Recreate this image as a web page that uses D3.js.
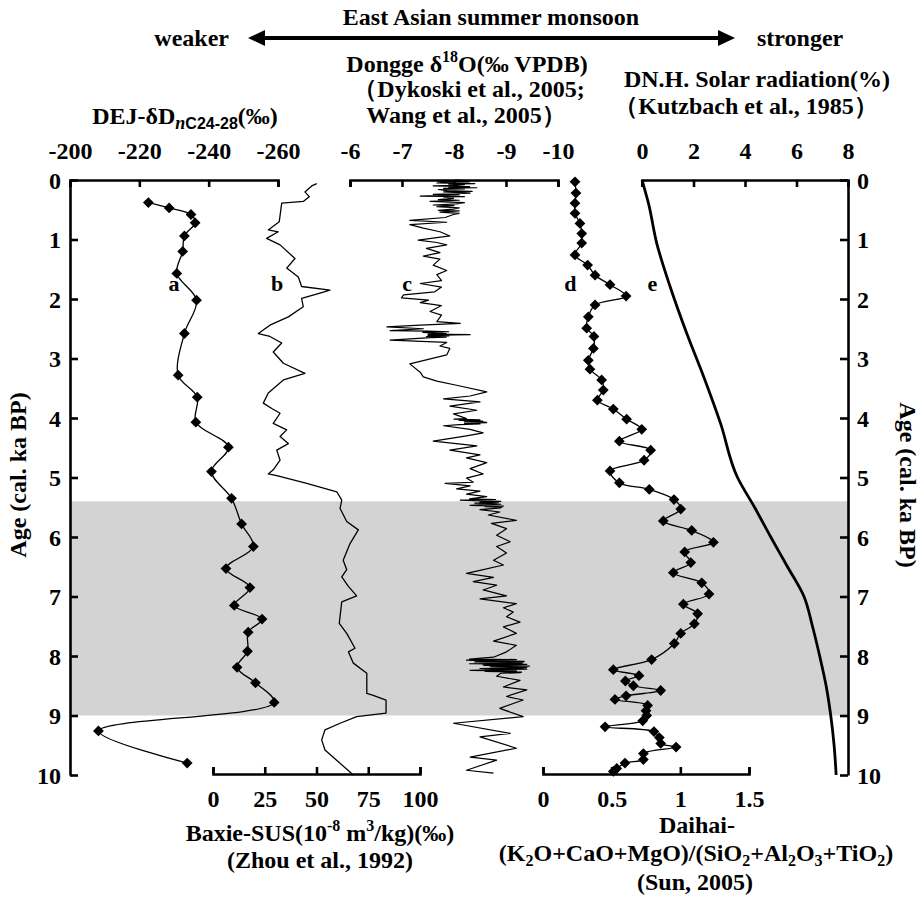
<!DOCTYPE html>
<html>
<head>
<meta charset="utf-8">
<script src="https://cdn.jsdelivr.net/npm/d3@7"></script>
<style>
  body { margin: 0; background: #fff; }
  svg text { font-family: "Liberation Serif", "Times New Roman", serif; font-weight: bold; fill: #000; }
</style>
</head>
<body>
<div id="chart"></div>
<script>
// ---------- data : [age (cal. ka BP), value] ----------
const dejDD = [[0.38,-222.6],[0.47,-228.6],[0.58,-234.9],[0.72,-236.1],[0.94,-233.0],[1.20,-232.5],[1.57,-230.8],
  [2.02,-236.5],[2.58,-233.0],[3.28,-231.2],[3.65,-236.7],[4.07,-236.3],[4.49,-245.7],[4.90,-240.8],[5.35,-246.6],
  [5.78,-249.5],[6.16,-252.9],[6.53,-245.0],[6.85,-251.9],[7.15,-247.4],[7.38,-255.4],[7.60,-251.4],[7.92,-251.2],
  [8.19,-248.2],[8.45,-253.5],[8.78,-258.9],[9.26,-208.2],[9.80,-233.8]];

const baxieSus = [[0.06,50.1],[0.10,47.7],[0.20,44.4],[0.28,46.5],[0.36,43.6],[0.39,33.2],[0.70,32.0],[0.84,26.7],
  [0.87,31.5],[0.98,25.9],[1.09,32.4],[1.32,39.6],[1.48,35.6],[1.63,41.2],[1.79,42.8],[1.85,56.5],[1.90,51.7],
  [1.99,42.8],[2.13,43.6],[2.30,36.4],[2.44,27.5],[2.58,21.9],[2.63,27.5],[2.74,33.2],[2.89,29.1],[3.08,34.0],
  [3.25,44.4],[3.36,34.0],[3.58,26.7],[3.75,24.3],[3.84,28.4],[3.92,32.4],[4.09,29.1],[4.20,35.6],[4.31,32.4],
  [4.43,36.4],[4.54,30.8],[4.71,32.4],[4.87,29.1],[4.94,26.7],[4.97,30.8],[5.10,45.3],[5.24,59.8],[5.38,62.2],
  [5.52,61.4],[5.74,64.6],[5.88,70.2],[6.11,66.2],[6.39,62.9],[6.55,64.6],[6.67,62.2],[6.83,65.4],[6.99,69.4],
  [7.09,62.2],[7.45,61.0],[7.62,64.6],[7.87,68.6],[7.93,65.4],[8.12,67.8],[8.29,74.3],[8.63,74.3],[8.66,77.4],
  [8.74,83.6],[8.96,83.6],[9.02,69.4],[9.13,61.4],[9.24,54.1],[9.41,52.5],[9.58,54.1],[10.0,67.8]];

const donggeO18 = [[0.00,-8.02],[0.01,-8.24],[0.02,-7.70],[0.03,-8.30],[0.04,-7.80],[0.05,-7.67],[0.06,-8.40],
  [0.07,-7.90],[0.08,-8.20],[0.09,-8.05],[0.10,-7.60],[0.11,-8.30],[0.12,-7.90],[0.13,-8.44],[0.14,-7.80],
  [0.15,-8.20],[0.16,-7.70],[0.18,-7.86],[0.19,-8.35],[0.20,-7.80],[0.22,-8.31],[0.24,-7.60],[0.25,-8.10],
  [0.27,-7.35],[0.28,-8.20],[0.29,-7.80],[0.31,-7.99],[0.33,-7.70],[0.34,-8.10],[0.36,-7.54],[0.38,-8.20],
  [0.40,-8.05],[0.42,-7.60],[0.43,-8.00],[0.45,-7.67],[0.47,-8.10],[0.49,-7.99],[0.51,-7.70],[0.52,-8.10],
  [0.54,-7.73],[0.56,-8.10],[0.58,-7.99],
  [0.63,-7.83],[0.68,-7.15],[0.71,-7.86],[0.75,-7.15],[0.81,-7.41],[0.87,-7.73],[0.94,-7.92],[1.01,-7.31],
  [1.05,-7.67],[1.09,-7.86],[1.15,-7.47],[1.22,-7.73],[1.28,-7.41],[1.33,-7.73],[1.43,-7.60],[1.52,-7.86],
  [1.59,-7.67],[1.69,-7.76],[1.74,-7.35],[1.80,-7.76],[1.88,-7.63],[1.93,-7.03],[1.98,-6.99],[2.02,-7.51],
  [2.06,-7.35],[2.11,-7.76],[2.21,-7.54],[2.27,-7.76],[2.38,-7.67],[2.41,-8.12],[2.44,-7.35],[2.47,-6.71],
  [2.50,-7.41],[2.53,-6.77],[2.54,-7.50],[2.55,-7.90],[2.56,-7.40],[2.57,-7.60],[2.58,-7.85],[2.59,-7.50],
  [2.60,-8.31],[2.61,-7.50],[2.62,-7.90],[2.63,-7.47],[2.64,-7.85],[2.65,-7.55],[2.69,-6.77],[2.73,-7.86],
  [2.79,-7.73],[2.83,-7.92],[2.94,-7.86],[3.09,-7.15],[3.23,-7.35],[3.31,-7.41],[3.38,-7.67],[3.45,-8.05],
  [3.56,-8.63],[3.63,-8.31],[3.68,-7.80],[3.73,-8.50],[3.80,-7.92],[3.87,-8.44],[3.93,-7.99],[4.01,-8.24],
  [4.02,-8.00],[4.03,-8.50],[4.04,-8.10],[4.05,-8.55],[4.06,-8.20],[4.07,-8.60],[4.08,-8.63],[4.09,-8.20],
  [4.10,-8.50],[4.11,-8.10],[4.13,-7.80],[4.19,-8.31],[4.25,-8.56],[4.30,-8.24],[4.39,-7.60],[4.47,-8.44],
  [4.54,-7.92],[4.62,-8.50],[4.67,-8.24],[4.75,-8.63],[4.85,-8.31],[4.94,-8.56],[5.01,-8.24],[5.08,-8.37],
  [5.10,-7.83],[5.14,-8.31],[5.19,-8.05],[5.23,-8.50],[5.28,-8.24],[5.32,-8.63],[5.36,-8.30],[5.37,-8.80],
  [5.38,-8.12],[5.39,-8.40],[5.40,-8.90],[5.41,-8.50],[5.42,-8.85],[5.43,-8.40],[5.44,-8.76],[5.45,-8.90],
  [5.46,-8.50],[5.47,-8.31],[5.48,-8.95],[5.49,-8.60],[5.50,-8.92],[5.51,-8.90],
  [5.54,-8.50],[5.58,-8.88],[5.63,-8.66],[5.72,-9.20],[5.77,-8.72],[5.86,-9.01],[5.97,-8.82],[6.08,-9.08],
  [6.16,-8.82],[6.27,-9.01],[6.39,-8.76],[6.47,-8.95],[6.56,-8.50],[6.61,-8.24],[6.68,-8.76],[6.75,-8.37],
  [6.81,-8.82],[6.89,-8.56],[6.99,-9.01],[7.04,-8.50],[7.12,-9.20],[7.19,-8.95],[7.26,-9.14],[7.34,-9.01],
  [7.43,-9.27],[7.51,-8.95],[7.62,-9.20],[7.75,-8.76],[7.82,-9.20],[7.93,-9.01],[8.02,-8.76],[8.05,-8.30],
  [8.06,-9.20],[8.07,-8.24],[8.08,-8.50],[8.09,-9.35],[8.10,-8.40],[8.11,-9.33],[8.12,-9.30],[8.13,-8.30],
  [8.14,-9.40],[8.15,-8.56],[8.16,-8.60],[8.17,-9.45],[8.18,-8.70],[8.19,-9.40],[8.20,-9.30],[8.21,-8.50],
  [8.22,-9.40],[8.23,-8.90],[8.24,-8.31],[8.25,-9.20],[8.26,-8.60],[8.27,-9.30],[8.28,-9.27],[8.29,-8.90],
  [8.34,-8.82],[8.41,-9.27],[8.52,-8.95],[8.57,-9.40],[8.68,-9.01],[8.74,-9.33],[8.88,-8.88],[9.02,-9.33],
  [9.13,-7.99],[9.30,-9.08],[9.36,-8.50],[9.55,-9.20],[9.70,-8.31],[9.75,-8.82],[9.92,-8.24],[9.97,-8.76]];

const daihaiRatio = [[0.03,0.233],[0.22,0.240],[0.39,0.233],[0.56,0.233],[0.73,0.269],[0.90,0.282],[1.06,0.282],
  [1.26,0.233],[1.43,0.325],[1.60,0.379],[1.76,0.488],[1.95,0.605],[2.10,0.379],[2.30,0.330],[2.49,0.318],
  [2.63,0.371],[2.83,0.367],[3.03,0.330],[3.18,0.342],[3.36,0.427],[3.53,0.439],[3.70,0.396],[3.85,0.512],
  [4.02,0.609],[4.19,0.719],[4.39,0.556],[4.54,0.784],[4.71,0.736],[4.89,0.488],[5.09,0.556],[5.20,0.774],
  [5.37,0.954],[5.53,1.003],[5.73,0.876],[5.89,1.083],[6.09,1.241],[6.25,1.032],[6.43,1.076],[6.60,0.949],
  [6.77,1.156],[6.96,1.209],[7.13,1.022],[7.29,1.126],[7.46,1.102],[7.62,1.003],[7.79,0.956],[8.06,0.791],
  [8.23,0.512],[8.33,0.699],[8.42,0.600],[8.50,0.658],[8.58,0.857],[8.67,0.605],[8.73,0.524],[8.83,0.762],
  [8.92,0.750],[9.00,0.755],[9.09,0.726],[9.19,0.452],[9.27,0.808],[9.37,0.847],[9.47,0.857],[9.53,0.969],
  [9.64,0.731],[9.74,0.731],[9.80,0.597],[9.89,0.537],[9.94,0.512]];

const solarRad = [[0,0.0],[0.39,0.25],[1.06,0.57],[1.79,1.09],[2.58,1.74],[3.31,2.40],[4.09,3.05],[5.0,3.71],
  [5.5,4.37],[6.0,5.0],[6.5,5.65],[7.0,6.29],[7.5,6.62],[8.0,6.90],[8.5,7.15],[9.0,7.33],[9.5,7.46],[10.0,7.54]];

const shadedBand = [5.4, 9.0];
const ageTicks = d3.range(0, 11);
const dejTicks = [-200, -220, -240, -260];
const donggeTicks = [-6, -7, -8, -9, -10];
const solarTicks = [0, 2, 4, 6, 8];
const susTicks = [0, 25, 50, 75, 100];
const daihaiTicks = [0, 0.5, 1, 1.5];
const curveLabels = [["a", "dej", -230], ["b", "sus", 31], ["c", "dongge", -7.1], ["d", "daihai", 0.2], ["e", "solar", 0.4]];

// ---------- layout ----------
const W = 924, H = 898;
const plotTop = 180, plotBottom = 775, plotLeft = 70, plotRight = 848;
const FS = 24;

const svg = d3.select("#chart").append("svg")
  .attr("width", W).attr("height", H)
  .style("background", "#fff");

const y = d3.scaleLinear().domain([0, 10]).range([plotTop, plotBottom]);
const xs = {
  dej: d3.scaleLinear().domain([-200, -260]).range([plotLeft, 278]),
  sus: d3.scaleLinear().domain([0, 100]).range([213, 420]),
  dongge: d3.scaleLinear().domain([-6, -10]).range([350, 558]),
  daihai: d3.scaleLinear().domain([0, 1.5]).range([543, 749]),
  solar: d3.scaleLinear().domain([0, 8]).range([642, plotRight])
};

// gray band
svg.append("rect")
  .attr("x", plotLeft).attr("width", plotRight - plotLeft)
  .attr("y", y(shadedBand[0])).attr("height", y(shadedBand[1]) - y(shadedBand[0]))
  .attr("fill", "#d3d3d3");

// ---------- axes ----------
function styleAxis(g) {
  g.selectAll("path, line").attr("stroke", "#000").attr("stroke-width", 2.6);
  g.selectAll("text").attr("font-size", FS).attr("fill", "#000")
    .attr("font-family", '"Liberation Serif", serif').attr("font-weight", "bold");
}
const fmt = d => String(d);

svg.append("g").attr("transform", `translate(${plotLeft},0)`)
  .call(d3.axisLeft(y).tickValues(ageTicks).tickFormat(fmt).tickSize(-8).tickSizeOuter(0).tickPadding(9))
  .call(styleAxis).call(g => g.selectAll("text").attr("dy", "0.34em"));
svg.append("g").attr("transform", `translate(${plotRight},0)`)
  .call(d3.axisRight(y).tickValues(ageTicks).tickFormat(fmt).tickSize(-8).tickSizeOuter(0).tickPadding(9))
  .call(styleAxis).call(g => g.selectAll("text").attr("dy", "0.34em"));

[["dej", dejTicks], ["dongge", donggeTicks], ["solar", solarTicks]].forEach(([k, t]) => {
  svg.append("g").attr("transform", `translate(0,${plotTop})`)
    .call(d3.axisTop(xs[k]).tickValues(t).tickFormat(fmt).tickSize(-7).tickSizeOuter(-7).tickPadding(21))
    .call(styleAxis);
});
[["sus", susTicks], ["daihai", daihaiTicks]].forEach(([k, t]) => {
  svg.append("g").attr("transform", `translate(0,${plotBottom - 1})`)
    .call(d3.axisBottom(xs[k]).tickValues(t).tickFormat(fmt).tickSize(-7).tickSizeOuter(-7).tickPadding(16))
    .call(styleAxis);
});

// ---------- curves ----------
function drawSeries(data, key, opts) {
  const x = xs[key];
  svg.append("path").datum(data)
    .attr("fill", "none").attr("stroke", "#000").attr("stroke-width", opts.width)
    .attr("stroke-linejoin", "round")
    .attr("d", d3.line().x(d => x(d[1])).y(d => y(d[0])).curve(opts.curve || d3.curveLinear));
  if (opts.markers) {
    svg.append("g").selectAll("path").data(data).join("path")
      .attr("d", d3.symbol(d3.symbolSquare, 58))
      .attr("transform", d => `translate(${x(d[1])},${y(d[0])}) rotate(45)`)
      .attr("fill", "#000");
  }
}
drawSeries(baxieSus, "sus", { width: 1.3 });
drawSeries(donggeO18, "dongge", { width: 1.2 });
drawSeries(solarRad, "solar", { width: 2.8, curve: d3.curveMonotoneY });
drawSeries(dejDD, "dej", { width: 1.3, curve: d3.curveCatmullRom, markers: true });
drawSeries(daihaiRatio, "daihai", { width: 1.3, curve: d3.curveCatmullRom, markers: true });

svg.append("g").selectAll("text").data(curveLabels).join("text")
  .attr("x", d => xs[d[1]](d[2])).attr("y", 291)
  .attr("text-anchor", "middle").attr("font-size", 22)
  .text(d => d[0]);

// ---------- titles ----------
function label(x, yy, parts, anchor = "middle", size = FS) {
  const t = svg.append("text").attr("x", x).attr("y", yy)
    .attr("text-anchor", anchor).attr("font-size", size);
  let shift = 0;
  parts.forEach(p => {
    const s = typeof p === "string" ? { t: p } : p;
    const want = s.sup ? -10 : s.sub ? 5 : 0;
    const ts = t.append("tspan").attr("dy", want - shift).text(s.t);
    if (s.sup || s.sub) ts.attr("font-size", s.size || 16);
    if (s.italic) ts.attr("font-style", "italic");
    if (s.family) ts.attr("font-family", s.family);
    shift = want;
  });
  return t;
}

// monsoon arrow
const arrowY = 38, ax0 = 248, ax1 = 735;
svg.append("line").attr("x1", ax0 + 10).attr("x2", ax1 - 10)
  .attr("y1", arrowY).attr("y2", arrowY).attr("stroke", "#000").attr("stroke-width", 4);
svg.append("path").attr("d", `M${ax0},${arrowY}L${ax0 + 17},${arrowY - 8}L${ax0 + 17},${arrowY + 8}Z`);
svg.append("path").attr("d", `M${ax1},${arrowY}L${ax1 - 17},${arrowY - 8}L${ax1 - 17},${arrowY + 8}Z`);

label(491, 25, ["East Asian summer monsoon"]);
label(229, 46, ["weaker"], "end");
label(757, 46, ["stronger"], "start");
label(467, 72, ["Dongge δ", { t: "18", sup: true }, "O(‰ VPDB)"]);
label(469, 97, ["（Dykoski et al., 2005;"]);
label(466, 123, ["Wang et al., 2005）"]);
label(757, 87, ["DN.H. Solar radiation(%)"]);
label(746, 114, ["（Kutzbach et al., 1985）"]);
label(185, 124, ["DEJ-δD", { t: "n", sub: true, italic: true, size: 18 },
  { t: "C24-28", sub: true, size: 16, family: '"Liberation Sans", Arial, sans-serif' }, { t: "(‰)" }]);

label(320, 841, ["Baxie-SUS(10", { t: "-8", sup: true }, " m", { t: "3", sup: true }, "/kg)(‰)"]);
label(320, 868, ["(Zhou et al., 1992)"]);
label(697, 833, ["Daihai-"]);
label(696, 861, ["(K", { t: "2", sub: true }, "O+CaO+MgO)/(SiO", { t: "2", sub: true }, "+Al", { t: "2", sub: true },
  "O", { t: "3", sub: true }, "+TiO", { t: "2", sub: true }, ")"]);
label(695, 890, ["(Sun, 2005)"]);

svg.append("text").attr("transform", "translate(26,475) rotate(-90)")
  .attr("text-anchor", "middle").attr("font-size", FS).text("Age (cal. ka BP)");
svg.append("text").attr("transform", "translate(900,485) rotate(90)")
  .attr("text-anchor", "middle").attr("font-size", FS).text("Age (cal. ka BP)");
</script>
</body>
</html>
